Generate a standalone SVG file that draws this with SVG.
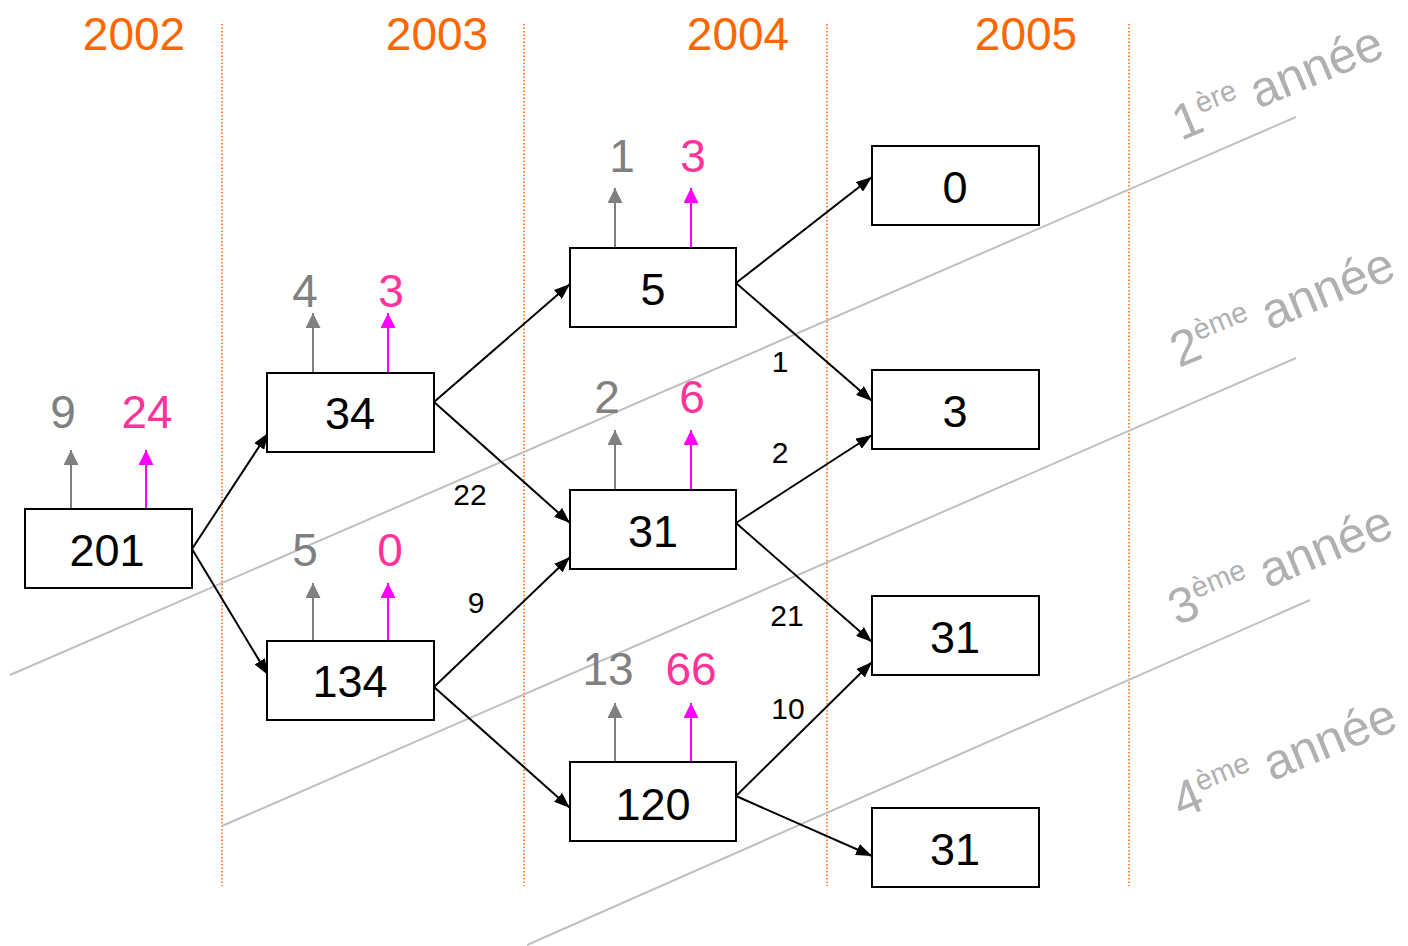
<svg xmlns="http://www.w3.org/2000/svg" width="1408" height="946" viewBox="0 0 1408 946">
<defs>
<style>
.box{fill:#fff;stroke:#000;stroke-width:2}
.bt{font-family:"Liberation Sans",Arial,sans-serif;font-size:45px;fill:#000;text-anchor:middle}
.yr{font-family:"Liberation Sans",Arial,sans-serif;font-size:46px;fill:#FF6600;text-anchor:middle}
.gl{font-family:"Liberation Sans",Arial,sans-serif;font-size:46px;fill:#808080;text-anchor:middle}
.pl{font-family:"Liberation Sans",Arial,sans-serif;font-size:46px;fill:#FF3399;text-anchor:middle}
.el{font-family:"Liberation Sans",Arial,sans-serif;font-size:30px;fill:#000;text-anchor:middle}
.an{font-family:"Liberation Sans",Arial,sans-serif;font-size:50px;fill:#B0B0B0}
.sup{font-size:29px}
.div{stroke:#FF6600;stroke-width:1.5;stroke-dasharray:1.5 2}
.diag{stroke:#C0C0C0;stroke-width:2}
.edge{stroke:#000;stroke-width:2;fill:none;marker-end:url(#ab)}
.ga{stroke:#808080;stroke-width:2;marker-end:url(#ag)}
.ma{stroke:#FF00FF;stroke-width:2;marker-end:url(#am)}
</style>
<marker id="ab" markerUnits="userSpaceOnUse" markerWidth="16" markerHeight="12" refX="16" refY="6" orient="auto"><path d="M0,0 L16,6 L0,12 z" fill="#000"/></marker>
<marker id="ag" markerUnits="userSpaceOnUse" markerWidth="15" markerHeight="15" refX="15" refY="7.5" orient="auto"><path d="M0,0 L15,7.5 L0,15 z" fill="#808080"/></marker>
<marker id="am" markerUnits="userSpaceOnUse" markerWidth="15" markerHeight="15" refX="15" refY="7.5" orient="auto"><path d="M0,0 L15,7.5 L0,15 z" fill="#FF00FF"/></marker>
</defs>
<rect width="1408" height="946" fill="#fff"/>

<g id="dividers">
<line class="div" x1="222" y1="24" x2="222" y2="886"/>
<line class="div" x1="524" y1="24" x2="524" y2="886"/>
<line class="div" x1="827" y1="24" x2="827" y2="886"/>
<line class="div" x1="1129" y1="24" x2="1129" y2="886"/>
</g>

<g id="years">
<text class="yr" x="134" y="50">2002</text>
<text class="yr" x="437" y="50">2003</text>
<text class="yr" x="738" y="50">2004</text>
<text class="yr" x="1026" y="50">2005</text>
</g>

<g id="diagonals">
<line class="diag" x1="10" y1="675" x2="1296" y2="117"/>
<line class="diag" x1="222" y1="826" x2="1296" y2="358"/>
<line class="diag" x1="527" y1="945" x2="1310" y2="600"/>
</g>

<g id="year-labels">
<text class="an" transform="translate(1181,141) rotate(-22.5)">1<tspan class="sup" dy="-18">ère</tspan><tspan dy="18"> année</tspan></text>
<text class="an" transform="translate(1179,368) rotate(-22.5)">2<tspan class="sup" dy="-18">ème</tspan><tspan dy="18"> année</tspan></text>
<text class="an" transform="translate(1177,626) rotate(-22.5)">3<tspan class="sup" dy="-18">ème</tspan><tspan dy="18"> année</tspan></text>
<text class="an" transform="translate(1181,819) rotate(-22.5)">4<tspan class="sup" dy="-18">ème</tspan><tspan dy="18"> année</tspan></text>
</g>

<g id="connectors">
<line class="edge" x1="192" y1="549" x2="268" y2="433"/>
<line class="edge" x1="192" y1="549" x2="268" y2="675"/>
<line class="edge" x1="434" y1="402" x2="570" y2="284"/>
<line class="edge" x1="434" y1="402" x2="570" y2="523"/>
<line class="edge" x1="434" y1="687" x2="570" y2="557"/>
<line class="edge" x1="434" y1="687" x2="570" y2="808"/>
<line class="edge" x1="736" y1="283" x2="872" y2="177"/>
<line class="edge" x1="736" y1="283" x2="872" y2="401"/>
<line class="edge" x1="736" y1="523" x2="872" y2="435"/>
<line class="edge" x1="736" y1="523" x2="872" y2="642"/>
<line class="edge" x1="736" y1="796" x2="872" y2="662"/>
<line class="edge" x1="736" y1="796" x2="872" y2="856"/>
<text class="el" x="470" y="505">22</text>
<text class="el" x="476" y="613">9</text>
<text class="el" x="780" y="372">1</text>
<text class="el" x="780" y="463">2</text>
<text class="el" x="787" y="626">21</text>
<text class="el" x="788" y="719">10</text>
</g>

<g id="n201">
<line class="ga" x1="71" y1="509" x2="71" y2="450"/>
<line class="ma" x1="146" y1="509" x2="146" y2="450"/>
<text class="gl" x="63" y="428">9</text>
<text class="pl" x="147" y="428">24</text>
<rect class="box" x="25" y="509" width="167" height="79"/>
<text class="bt" x="107" y="566">201</text>
</g>

<g id="n34">
<line class="ga" x1="313" y1="373" x2="313" y2="313"/>
<line class="ma" x1="388" y1="373" x2="388" y2="313"/>
<text class="gl" x="305" y="307">4</text>
<text class="pl" x="391" y="307">3</text>
<rect class="box" x="267" y="373" width="167" height="79"/>
<text class="bt" x="350" y="429">34</text>
</g>

<g id="n134">
<line class="ga" x1="313" y1="641" x2="313" y2="583"/>
<line class="ma" x1="388" y1="641" x2="388" y2="583"/>
<text class="gl" x="305" y="566">5</text>
<text class="pl" x="390" y="566">0</text>
<rect class="box" x="267" y="641" width="167" height="79"/>
<text class="bt" x="350" y="697">134</text>
</g>

<g id="n5">
<line class="ga" x1="615" y1="248" x2="615" y2="188"/>
<line class="ma" x1="691" y1="248" x2="691" y2="188"/>
<text class="gl" x="622" y="172">1</text>
<text class="pl" x="693" y="172">3</text>
<rect class="box" x="570" y="248" width="166" height="79"/>
<text class="bt" x="653" y="305">5</text>
</g>

<g id="n31a">
<line class="ga" x1="615" y1="490" x2="615" y2="430"/>
<line class="ma" x1="691" y1="490" x2="691" y2="430"/>
<text class="gl" x="607" y="413">2</text>
<text class="pl" x="692" y="413">6</text>
<rect class="box" x="570" y="490" width="166" height="79"/>
<text class="bt" x="653" y="547">31</text>
</g>

<g id="n120">
<line class="ga" x1="615" y1="762" x2="615" y2="703"/>
<line class="ma" x1="691" y1="762" x2="691" y2="703"/>
<text class="gl" x="608" y="685">13</text>
<text class="pl" x="691" y="685">66</text>
<rect class="box" x="570" y="762" width="166" height="79"/>
<text class="bt" x="653" y="820">120</text>
</g>

<g id="n0">
<rect class="box" x="872" y="146" width="167" height="79"/>
<text class="bt" x="955" y="203">0</text>
</g>
<g id="n3">
<rect class="box" x="872" y="370" width="167" height="79"/>
<text class="bt" x="955" y="427">3</text>
</g>
<g id="n31b">
<rect class="box" x="872" y="596" width="167" height="79"/>
<text class="bt" x="955" y="653">31</text>
</g>
<g id="n31c">
<rect class="box" x="872" y="808" width="167" height="79"/>
<text class="bt" x="955" y="865">31</text>
</g>
</svg>
